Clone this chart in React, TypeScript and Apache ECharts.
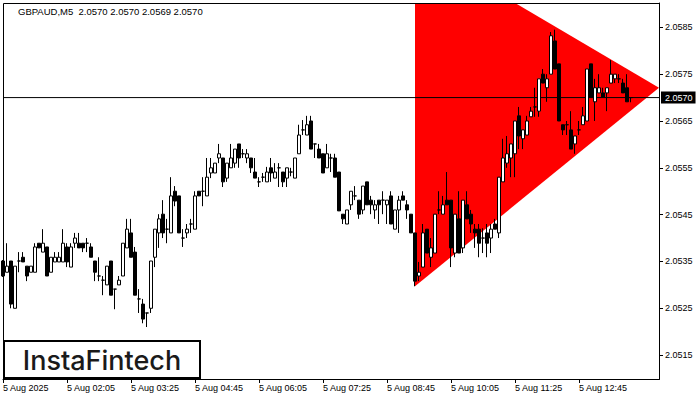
import React, { useEffect, useRef } from 'react';
import * as echarts from 'echarts';

// [open, close, low, high] — GBPAUD M5, 5 Aug 2025 from 00:45
const candles: number[][] = [
  [2.05351, 2.05319, 2.05317, 2.05353],
  [2.05327, 2.0534, 2.05327, 2.05389],
  [2.05351, 2.05259, 2.0525, 2.05351],
  [2.0525, 2.0534, 2.0525, 2.0534],
  [2.05351, 2.05351, 2.05327, 2.0537],
  [2.05359, 2.05349, 2.05349, 2.0537],
  [2.0534, 2.05319, 2.05308, 2.0534],
  [2.05327, 2.0534, 2.05327, 2.0534],
  [2.05327, 2.05381, 2.05327, 2.05389],
  [2.05389, 2.05379, 2.05379, 2.05389],
  [2.0537, 2.05389, 2.0537, 2.05419],
  [2.05381, 2.05319, 2.05319, 2.05381],
  [2.05327, 2.05359, 2.05327, 2.05359],
  [2.05349, 2.05359, 2.05349, 2.0537],
  [2.05349, 2.05359, 2.05349, 2.0537],
  [2.05349, 2.05389, 2.05349, 2.05419],
  [2.05381, 2.05349, 2.05338, 2.05389],
  [2.05338, 2.05381, 2.05338, 2.05389],
  [2.05389, 2.054, 2.05379, 2.05411],
  [2.05389, 2.05379, 2.05379, 2.05411],
  [2.05389, 2.05379, 2.0537, 2.05389],
  [2.05389, 2.05389, 2.0537, 2.054],
  [2.05381, 2.05359, 2.05359, 2.05389],
  [2.05351, 2.05327, 2.05308, 2.05351],
  [2.05319, 2.05319, 2.05308, 2.05359],
  [2.0531, 2.0531, 2.05278, 2.05319],
  [2.053, 2.0534, 2.053, 2.0534],
  [2.05351, 2.05278, 2.05278, 2.05351],
  [2.05291, 2.05291, 2.05248, 2.05291],
  [2.053, 2.0531, 2.053, 2.05319],
  [2.05319, 2.05389, 2.05319, 2.05389],
  [2.05379, 2.05419, 2.05379, 2.05441],
  [2.05411, 2.05359, 2.05359, 2.05441],
  [2.0537, 2.05278, 2.05278, 2.05381],
  [2.0527, 2.0527, 2.0524, 2.05291],
  [2.05259, 2.05227, 2.05218, 2.0527],
  [2.0524, 2.0524, 2.0521, 2.0524],
  [2.0525, 2.05351, 2.0524, 2.05351],
  [2.05359, 2.05419, 2.05338, 2.05419],
  [2.05411, 2.05441, 2.05379, 2.05451],
  [2.05451, 2.05411, 2.054, 2.05481],
  [2.05419, 2.05419, 2.05389, 2.05441],
  [2.05411, 2.0549, 2.05411, 2.0553],
  [2.055, 2.05479, 2.05468, 2.05511],
  [2.0549, 2.05411, 2.05411, 2.0549],
  [2.054, 2.054, 2.05381, 2.05419],
  [2.05411, 2.05419, 2.054, 2.0543],
  [2.0543, 2.0543, 2.05411, 2.05441],
  [2.05419, 2.0549, 2.05419, 2.055],
  [2.055, 2.0549, 2.0549, 2.055],
  [2.055, 2.055, 2.05468, 2.0553],
  [2.0549, 2.0553, 2.0549, 2.05571],
  [2.05539, 2.0555, 2.05528, 2.05571],
  [2.05539, 2.0556, 2.05539, 2.0556],
  [2.05571, 2.0558, 2.0556, 2.05601],
  [2.05571, 2.0552, 2.05509, 2.05571],
  [2.05528, 2.0556, 2.0552, 2.0556],
  [2.0555, 2.05571, 2.0555, 2.05601],
  [2.0556, 2.0559, 2.0555, 2.0559],
  [2.05601, 2.05571, 2.0555, 2.05601],
  [2.0558, 2.0558, 2.05571, 2.0559],
  [2.05571, 2.0558, 2.0556, 2.0559],
  [2.05571, 2.0555, 2.05539, 2.05571],
  [2.05541, 2.05528, 2.05528, 2.05571],
  [2.0552, 2.0552, 2.05509, 2.0553],
  [2.0553, 2.0553, 2.0552, 2.05539],
  [2.0552, 2.05541, 2.0552, 2.05552],
  [2.0555, 2.05539, 2.0552, 2.05571],
  [2.05528, 2.05541, 2.05528, 2.0556],
  [2.0555, 2.0555, 2.05509, 2.0556],
  [2.05541, 2.0552, 2.05509, 2.05541],
  [2.05528, 2.0555, 2.05509, 2.0555],
  [2.05541, 2.05541, 2.05532, 2.0555],
  [2.05528, 2.05571, 2.05528, 2.05571],
  [2.0558, 2.0562, 2.0558, 2.05642],
  [2.05631, 2.05631, 2.0562, 2.05652],
  [2.0562, 2.05642, 2.0562, 2.05661],
  [2.0565, 2.0559, 2.0559, 2.05661],
  [2.05601, 2.05601, 2.05571, 2.05601],
  [2.0559, 2.05571, 2.05571, 2.05601],
  [2.0558, 2.05539, 2.05539, 2.0558],
  [2.0555, 2.0558, 2.0555, 2.05601],
  [2.05571, 2.05571, 2.05541, 2.0558],
  [2.05571, 2.0553, 2.0553, 2.0558],
  [2.05541, 2.05458, 2.05458, 2.05541],
  [2.05451, 2.05441, 2.0543, 2.05451],
  [2.0543, 2.0546, 2.0543, 2.0546],
  [2.05471, 2.055, 2.0546, 2.055],
  [2.0549, 2.0549, 2.05481, 2.05511],
  [2.05481, 2.05451, 2.05441, 2.05481],
  [2.0546, 2.05511, 2.05451, 2.05511],
  [2.0552, 2.05471, 2.05471, 2.0552],
  [2.05481, 2.05471, 2.05451, 2.0549],
  [2.0546, 2.05471, 2.05441, 2.05481],
  [2.05481, 2.05471, 2.0543, 2.05481],
  [2.05481, 2.05481, 2.05451, 2.055],
  [2.05471, 2.05481, 2.0543, 2.05481],
  [2.0549, 2.0543, 2.0543, 2.055],
  [2.05419, 2.0546, 2.05419, 2.0546],
  [2.0546, 2.05481, 2.05411, 2.0549],
  [2.0549, 2.05481, 2.05481, 2.055],
  [2.05471, 2.0546, 2.05441, 2.05481],
  [2.05451, 2.05411, 2.05411, 2.05451],
  [2.05411, 2.05308, 2.05297, 2.05411],
  [2.05319, 2.05327, 2.05308, 2.05349],
  [2.05338, 2.05411, 2.05338, 2.0543],
  [2.05419, 2.05368, 2.05368, 2.05419],
  [2.05359, 2.05379, 2.05338, 2.054],
  [2.05368, 2.05451, 2.05368, 2.05451],
  [2.0546, 2.0546, 2.05451, 2.055],
  [2.05451, 2.05471, 2.05451, 2.0549],
  [2.05481, 2.05471, 2.05471, 2.05541],
  [2.05481, 2.05379, 2.05338, 2.05481],
  [2.05368, 2.05451, 2.05359, 2.05451],
  [2.05441, 2.05368, 2.05368, 2.055],
  [2.05379, 2.05481, 2.05368, 2.05481],
  [2.05471, 2.05441, 2.05441, 2.055],
  [2.05451, 2.0543, 2.05411, 2.0546],
  [2.05419, 2.05411, 2.05379, 2.0543],
  [2.05419, 2.05389, 2.05359, 2.0543],
  [2.054, 2.054, 2.05368, 2.05421],
  [2.05411, 2.05389, 2.05359, 2.0543],
  [2.054, 2.05419, 2.05368, 2.0543],
  [2.0543, 2.05419, 2.05419, 2.05441],
  [2.05411, 2.0553, 2.054, 2.0553],
  [2.0552, 2.05571, 2.0552, 2.05612],
  [2.0556, 2.0558, 2.0555, 2.05618],
  [2.05571, 2.05601, 2.0553, 2.05601],
  [2.0558, 2.0565, 2.0553, 2.0565],
  [2.05661, 2.05618, 2.0559, 2.0568],
  [2.05612, 2.05631, 2.0559, 2.05631],
  [2.0562, 2.0565, 2.0562, 2.05661],
  [2.05659, 2.05671, 2.05659, 2.0568],
  [2.0568, 2.0568, 2.05659, 2.05721],
  [2.05671, 2.0574, 2.05659, 2.0574],
  [2.0575, 2.05731, 2.05731, 2.05761],
  [2.05721, 2.0574, 2.05691, 2.0575],
  [2.0575, 2.05832, 2.0575, 2.0584],
  [2.05821, 2.05761, 2.05761, 2.05845],
  [2.05772, 2.0565, 2.0565, 2.05772],
  [2.05642, 2.05631, 2.0562, 2.05642],
  [2.05642, 2.05642, 2.0562, 2.0565],
  [2.05631, 2.0559, 2.0559, 2.05671],
  [2.05601, 2.05618, 2.0558, 2.05618],
  [2.05631, 2.05631, 2.0562, 2.0565],
  [2.05642, 2.05661, 2.05642, 2.0568],
  [2.0565, 2.05761, 2.0565, 2.05761],
  [2.05772, 2.05701, 2.05701, 2.05772],
  [2.05691, 2.05721, 2.0565, 2.0574],
  [2.0571, 2.05721, 2.0571, 2.0575],
  [2.0571, 2.05701, 2.05701, 2.05721],
  [2.0571, 2.05721, 2.05671, 2.05721],
  [2.05731, 2.0575, 2.05731, 2.0578],
  [2.0574, 2.0575, 2.05731, 2.0575],
  [2.0574, 2.0574, 2.05731, 2.0575],
  [2.05731, 2.0571, 2.0571, 2.0574],
  [2.05721, 2.05691, 2.05691, 2.0575],
  [2.057, 2.057, 2.0569, 2.057],
];

const totalSlots = 165; // candles plus empty space on the right
const ticksEvery = 16;
const xTickLabels = [
  '5 Aug 2025', '5 Aug 02:05', '5 Aug 03:25', '5 Aug 04:45', '5 Aug 06:05',
  '5 Aug 07:25', '5 Aug 08:45', '5 Aug 10:05', '5 Aug 11:25', '5 Aug 12:45',
];
const yTickValues = [2.0515, 2.0525, 2.0535, 2.0545, 2.0555, 2.0565, 2.0575, 2.0585];
const yMin = 2.05099;
const yMax = 2.05902;
const lastPrice = 2.057;
// symmetrical triangle pattern vertices [candle index, price]
const trianglePoints = [
  [103, 2.06028],
  [103, 2.05297],
  [164, 2.05721],
];
const titleText = 'GBPAUD,M5  2.0570 2.0570 2.0569 2.0570';
const logoText = 'InstaFintech';

const FONT = '"Liberation Sans", Arial, sans-serif';

export default function App() {
  const ref = useRef<HTMLDivElement>(null);

  useEffect(() => {
    if (!ref.current) return;
    const chart = echarts.init(ref.current, undefined, { renderer: 'svg' });
    const categories = Array.from({ length: totalSlots }, (_, i) => String(i));
    const showTick = (i: number) => i % ticksEvery === 0 && i / ticksEvery < xTickLabels.length;

    chart.setOption({
      animation: false,
      backgroundColor: '#ffffff',
      grid: { left: 3, top: 3, width: 656, height: 376, containLabel: false },
      xAxis: {
        type: 'category',
        data: categories,
        boundaryGap: false,
        axisLine: { show: true, lineStyle: { color: '#000', width: 1 } },
        axisTick: {
          show: true,
          length: 4,
          interval: (i: number) => showTick(i),
          lineStyle: { color: '#000' },
        },
        axisLabel: {
          show: true,
          interval: (i: number) => showTick(i),
          formatter: (_v: string, i: number) => (showTick(i) ? xTickLabels[i / ticksEvery] : ''),
          align: 'left',
          margin: 4,
          color: '#000',
          fontSize: 9,
          fontFamily: FONT,
        },
        splitLine: { show: false },
      },
      yAxis: {
        type: 'value',
        position: 'right',
        min: yMin,
        max: yMax,
        scale: true,
        axisLine: { show: true, lineStyle: { color: '#000', width: 1 } },
        axisTick: {
          show: true,
          length: 4,
          customValues: yTickValues,
          lineStyle: { color: '#000' },
        },
        axisLabel: {
          show: true,
          customValues: yTickValues,
          formatter: (v: number) => v.toFixed(4),
          margin: 6,
          color: '#000',
          fontSize: 9,
          fontFamily: FONT,
        },
        splitLine: { show: false },
      },
      series: [
        {
          type: 'custom',
          z: 1,
          clip: true,
          silent: true,
          data: trianglePoints,
          renderItem: (params: any, api: any) => {
            if (params.dataIndex !== 0) return null;
            const pts = trianglePoints.map((p) => api.coord(p));
            return {
              type: 'polygon',
              shape: { points: pts },
              style: { fill: '#ff0000', stroke: 'none' },
            };
          },
        },
        {
          type: 'line',
          z: 2,
          silent: true,
          symbol: 'none',
          clip: false,
          data: [
            [0, lastPrice],
            [totalSlots - 1, lastPrice],
          ],
          lineStyle: { color: '#000', width: 1, type: 'solid' },
          endLabel: {
            show: true,
            distance: 2,
            formatter: () => lastPrice.toFixed(4),
            backgroundColor: '#000',
            color: '#fff',
            padding: [2, 3, 1, 4],
            fontSize: 9,
            fontFamily: FONT,
          },
        },
        {
          type: 'candlestick',
          z: 3,
          data: candles,
          barWidth: 3,
          clip: true,
          silent: true,
          itemStyle: {
            color: '#ffffff',
            color0: '#000000',
            borderColor: '#000000',
            borderColor0: '#000000',
            borderColorDoji: '#000000',
            borderWidth: 1,
          },
        },
      ],
      graphic: [
        {
          type: 'rect',
          z: 100,
          silent: true,
          shape: { x: 3.5, y: 3.5, width: 656, height: 376 },
          style: { fill: 'none', stroke: '#000', lineWidth: 1 },
        },
        {
          type: 'text',
          z: 100,
          x: 18,
          y: 6,
          style: {
            text: titleText,
            fill: '#000',
            fontSize: 9.5,
            fontFamily: FONT,
          },
        },
        {
          type: 'group',
          z: 100,
          children: [
            {
              type: 'rect',
              shape: { x: 4, y: 341, width: 196, height: 37 },
              style: { fill: '#fff', stroke: '#000', lineWidth: 2 },
            },
            {
              type: 'text',
              x: 102,
              y: 360,
              style: {
                text: logoText,
                fill: '#1a1a1a',
                fontSize: 27,
                fontWeight: 500,
                fontFamily: 'Inter, "Open Sans", sans-serif',
                align: 'center',
                verticalAlign: 'middle',
              },
            },
          ],
        },
      ],
    });

    return () => {
      chart.dispose();
    };
  }, []);

  return (
    <div
      ref={ref}
      style={{ position: 'fixed', left: 0, top: 0, width: 700, height: 400, background: '#fff' }}
    />
  );
}
